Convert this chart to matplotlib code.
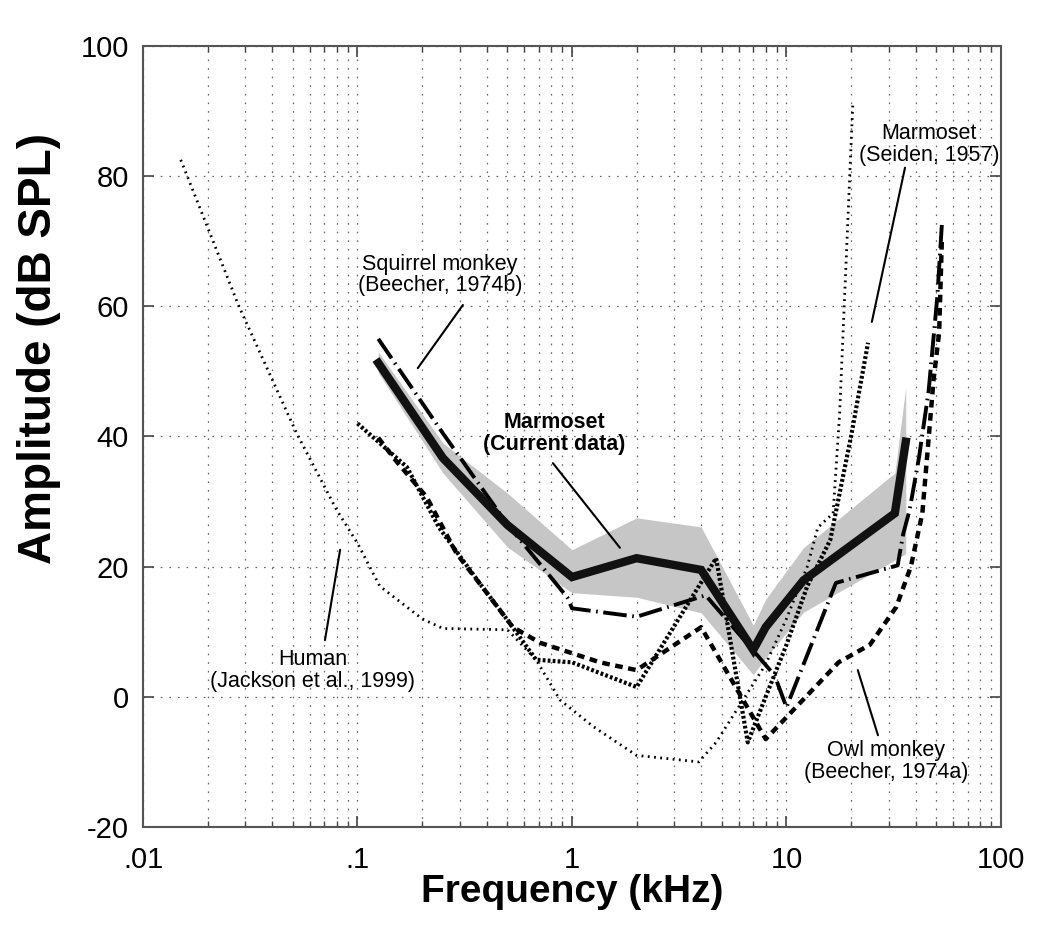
import numpy as np
import matplotlib
matplotlib.use("Agg")
import matplotlib.pyplot as plt
from matplotlib.ticker import FixedLocator, LogLocator, NullFormatter

plt.rcParams['font.family'] = ['Liberation Sans', 'DejaVu Sans']
plt.rcParams['lines.scale_dashes'] = False

# Marmoset, current data (mean and shaded range)
cur_f = [0.125, 0.25, 0.5, 1, 2, 4, 7, 8, 12, 32, 36]
cur_db = [51.3, 36.7, 26.4, 18.4, 21.3, 19.5, 7.2, 10.7, 17.9, 28.2, 39.2]
cur_hi = [53.0, 39.0, 31.3, 22.6, 27.5, 26.1, 11.0, 15.0, 22.9, 34.4, 47.6]
cur_lo = [49.8, 34.4, 23.0, 16.0, 15.3, 12.9, 3.4, 6.0, 13.0, 21.0, 22.0]

# Squirrel monkey (Beecher, 1974b)
sq_f = [0.125, 0.25, 0.5, 0.95, 1, 2, 4.2, 8.8, 10, 17, 33, 35, 37.5, 41.5, 46, 50.5, 53]
sq_db = [55, 40.5, 26.5, 15.3, 13.6, 12.3, 15.6, 3.3, -1.6, 17.5, 20.2, 25, 28.7, 36.8, 47, 61.5, 72.5]

# Owl monkey (Beecher, 1974a)
owl_f = [0.125, 0.15, 0.21, 0.29, 0.4, 0.53, 0.71, 1.35, 2, 4, 8, 17.5, 24.5, 32.5, 38, 43, 48.5, 51.5, 53]
owl_db = [39.8, 36.4, 30.7, 22, 16, 10.7, 8.3, 5.3, 4.1, 10.7, -6.5, 5.3, 8, 13.8, 20, 28.2, 48.7, 56, 70]

# Marmoset (Seiden, 1957)
sei_f = [0.1, 0.17, 0.24, 0.37, 0.5, 0.68, 1, 2, 4.7, 6.6, 8, 10, 12.5, 16, 20, 24]
sei_db = [42, 35.3, 26, 17.5, 11.8, 5.7, 5.3, 1.5, 21.3, -7, 0, 8, 17, 24.1, 40, 54.4]

# Human (Jackson et al., 1999)
hum_f = [0.015, 0.028, 0.052, 0.08, 0.1, 0.127, 0.2, 0.25, 0.5, 0.68, 0.88, 1.26, 2, 3.9, 4.7, 6, 8, 10, 12.5, 14, 16.5, 17.7, 20.4]
hum_db = [82.5, 60, 40.5, 28.7, 23.6, 17, 12, 10.5, 10.3, 5.7, -0.5, -4.6, -9, -10, -7, -1.5, 5, 12, 20, 26, 28.2, 43.6, 91.4]

xticks = [0.01, 0.1, 1, 10, 100]
xlabels = ['.01', '.1', '1', '10', '100']
yticks = [-20, 0, 20, 40, 60, 80, 100]
ylabels = ['-20', '0', '20', '40', '60', '80', '100']

fig = plt.figure(figsize=(10.5, 9.42), dpi=100)
ax = fig.add_axes([0.1362, 0.1221, 0.8171, 0.8291])
ax.set_xscale('log')
ax.set_xlim(0.01, 100)
ax.set_ylim(-20, 100)

# grid
grid_style = dict(color='#666666', linewidth=0.9, linestyle=(0, (1.2, 5)))
ax.grid(True, which='major', axis='both', **grid_style)
ax.grid(True, which='minor', axis='x', **grid_style)
ax.set_axisbelow(True)

# curves
ax.fill_between(cur_f, cur_lo, cur_hi, color='#c6c6c6', linewidth=0, zorder=2)
ax.plot(hum_f, hum_db, color='black', linewidth=2.0, linestyle=(0, (1.3, 3.2)), zorder=3)
ax.plot(sei_f, sei_db, color='black', linewidth=3.0, linestyle=(0, (2.0, 1.6)), zorder=3)
ax.plot(owl_f, owl_db, color='black', linewidth=3.2, linestyle=(0, (5.5, 4.0)), zorder=3)
ax.plot(sq_f, sq_db, color='black', linewidth=2.8, linestyle=(0, (17, 4, 1.2, 4)), zorder=3)
ax.plot(cur_f, cur_db, color='#111111', linewidth=6.0, solid_joinstyle='miter', zorder=4)

# ticks
ax.xaxis.set_major_locator(FixedLocator(xticks))
ax.set_xticklabels(xlabels)
ax.xaxis.set_minor_locator(LogLocator(base=10, subs=np.arange(2, 10)))
ax.xaxis.set_minor_formatter(NullFormatter())
ax.set_yticks(yticks)
ax.set_yticklabels(ylabels)
ax.tick_params(axis='both', which='major', direction='in', length=8, width=1.2,
               color='#444444', labelsize=21, top=True, right=True)
ax.tick_params(axis='x', which='minor', direction='in', length=4, width=1.0,
               color='#444444', top=True)
ax.tick_params(axis='x', which='major', pad=14)
ax.tick_params(axis='y', which='major', pad=10)
for sp in ax.spines.values():
    sp.set_color('#555555')
    sp.set_linewidth(1.5)

ax.set_xlabel('Frequency (kHz)', fontsize=28, fontweight='bold', labelpad=0)
ax.set_ylabel('Amplitude (dB SPL)', fontsize=33, fontweight='bold')
ax.yaxis.set_label_coords(-0.096, 0.613)

# annotations
lbl = dict(fontsize=15.5, ha='center', va='center', linespacing=1.05)
line = dict(arrowstyle='-', color='black', linewidth=1.5, shrinkA=0, shrinkB=0)
ax.annotate('', xy=(0.191, 50.5), xytext=(0.31, 60.2), arrowprops=line)
ax.text(0.2425, 64.8, 'Squirrel monkey\n(Beecher, 1974b)', **lbl)
ax.annotate('', xy=(1.673, 22.9), xytext=(0.815, 35.9), arrowprops=line)
ax.text(0.83, 40.4, 'Marmoset\n(Current data)', fontweight='bold', **lbl)
ax.annotate('', xy=(25.0, 57.6), xytext=(35.7, 81.3), arrowprops=line)
ax.text(46.2, 84.8, 'Marmoset\n(Seiden, 1957)', **lbl)
ax.annotate('', xy=(0.083, 22.6), xytext=(0.0705, 8.7), arrowprops=line)
ax.text(0.062, 4.1, 'Human\n(Jackson et al., 1999)', **lbl)
ax.annotate('', xy=(21.5, 4.1), xytext=(26.7, -5.9), arrowprops=line)
ax.text(29.1, -10, 'Owl monkey\n(Beecher, 1974a)', **lbl)

fig.savefig('out.png', dpi=100)
